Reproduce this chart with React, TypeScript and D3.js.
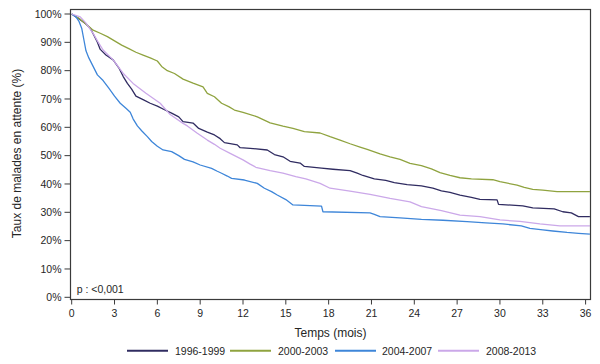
import React from "react";
import * as d3 from "d3";

const seriesNames = ["1996-1999", "2000-2003", "2004-2007", "2008-2013"];
const seriesColors = ["#302c61", "#8fa33f", "#3e86d9", "#cba8e9"];

const t1996 = [0,0.3,0.6,1.0,1.3,1.5,1.8,2.0,2.4,2.9,3.3,3.6,3.9,4.2,4.5,5.0,5.5,6.0,6.5,7.0,7.5,7.8,8.5,8.9,9.5,10.0,10.4,10.7,11.6,11.8,12.5,13.7,14.2,14.8,15.3,16.0,16.3,17.5,18.3,19.5,20.0,20.4,21.2,22.0,22.6,23.5,24.5,25.3,25.9,26.5,27.2,28.0,28.6,29.8,29.9,31.6,32.3,33.8,34.4,35.0,35.5,36.3];
const v1996 = [100,99,98,96.5,95,93,90,87.5,85.5,83.8,81,78,75.5,73.5,71,69.8,68.5,67.5,66.2,65,63.7,62,61.5,59.6,58.3,57.3,56,54.6,53.8,52.8,52.6,52,50.4,49.6,48,47.4,46.2,45.6,45.2,44.7,43.8,43,41.8,41.3,40.5,39.8,39.3,38.5,37.6,37.0,36.1,35.3,34.6,34.4,32.8,32.3,31.6,31.2,30.2,29.8,28.5,28.5];

const t2000 = [0,0.5,1.0,1.5,2.0,2.5,3.0,3.5,4.0,4.5,5.0,5.5,6.0,6.3,6.7,7.2,7.8,8.5,9.2,9.5,10.0,10.5,11.0,11.4,12.0,13.0,13.9,14.8,15.5,16.3,17.4,18.1,18.8,19.5,20.2,20.7,21.6,22.3,23.0,23.7,24.5,25.2,25.8,26.5,27.2,28.0,29.5,30.0,31.2,31.7,32.3,33.0,34.0,36.3];
const v2000 = [100,98.5,96.5,94.3,93.2,92,90.5,89,87.8,86.5,85.5,84.5,83.4,81.5,80,79,77,75.6,74.3,72,70.8,68.5,67.3,66.1,65.3,63.7,61.6,60.4,59.6,58.5,58,56.7,55.5,54.2,53,52.2,50.6,49.6,48.7,47.3,46.5,45.3,44,43,42.2,41.8,41.5,40.8,39.6,38.8,38.1,37.8,37.3,37.3];

const t2004 = [0,0.3,0.5,0.7,0.85,1.0,1.2,1.5,1.8,2.2,2.6,3.0,3.4,3.8,4.1,4.3,4.6,4.9,5.3,5.6,6.0,6.4,7.0,7.5,7.9,8.5,9.0,9.8,10.2,10.5,10.9,11.2,12.1,13.0,13.5,14.0,14.4,15.0,15.5,17.5,17.6,20.9,21.2,21.6,23.0,24.5,26.0,27.7,29.0,30.2,31.5,32.1,33.0,33.7,34.7,35.5,36.3];
const v2004 = [100,99,97.5,95,91,87,84.5,81.5,78.5,76.5,73.8,71,68.5,66.7,65.3,63,60.5,58.8,56.7,55,53.3,52,51.4,50,48.7,47.8,46.7,45.5,44.5,43.8,42.8,42,41.4,40.2,38.5,37.3,36.1,34.5,32.6,32.2,30.2,29.8,29.3,28.5,28,27.5,27.2,26.7,26.3,25.9,25.2,24.3,23.8,23.4,22.9,22.6,22.3];

const t2008 = [0,0.6,1.0,1.5,1.8,2.2,2.9,3.6,4.3,5.2,6.2,6.9,7.8,8.1,8.8,9.5,10.0,10.4,11.1,12.0,12.5,12.9,13.9,14.8,15.7,16.4,17.4,18.1,19.5,20.9,22.3,23.7,24.5,25.9,27.2,28.6,30.0,31.4,32.8,34.2,36.3];
const v2008 = [100,99,96.8,93.2,90.5,87.3,83.8,79.1,75.5,72,68.5,64.5,61.4,60.5,57.9,55.5,54,52.6,50.8,48.5,47,45.9,44.7,43.8,42.6,41.8,40.2,38.5,37.5,36.3,34.9,33.7,32,30.6,29,28.5,27.3,26.8,25.9,25.2,25.2];

const xTicks = [0, 3, 6, 9, 12, 15, 18, 21, 24, 27, 30, 33, 36];
const yTicks = [0, 10, 20, 30, 40, 50, 60, 70, 80, 90, 100];

const seriesTimes = [t1996, t2000, t2004, t2008];
const seriesValues = [v1996, v2000, v2004, v2008];

const W = 600, H = 364;
const frame = { left: 70.5, right: 590.5, top: 9.5, bottom: 299.5 };
const FONT = "'Liberation Sans', Arial, sans-serif";
const TXT = "#262626";

export default function App() {
  const x = d3.scaleLinear().domain([0, 36]).range([71.7, 585.6]);
  const y = d3.scaleLinear().domain([0, 100]).range([297.3, 14]);
  const line = d3
    .line<[number, number]>()
    .x((d) => x(d[0]))
    .y((d) => y(d[1]))
    .curve(d3.curveLinear);

  const legendItems = [
    { lx: 127, tx: 175 },
    { lx: 230, tx: 278 },
    { lx: 335, tx: 382 },
    { lx: 438, tx: 486 },
  ];

  return (
    <svg
      width={W}
      height={H}
      style={{ position: "absolute", left: 0, top: 0, display: "block", background: "#fff" }}
      fontFamily={FONT}
    >
      <defs>
        <clipPath id="plotclip">
          <rect x={frame.left} y={frame.top} width={frame.right - frame.left} height={frame.bottom - frame.top} />
        </clipPath>
      </defs>
      <rect x={0} y={0} width={W} height={H} fill="#fff" />
      <g clipPath="url(#plotclip)">
        {seriesTimes.map((ts, i) => {
          const pts: [number, number][] = ts.map((t, j) => [t, seriesValues[i][j]]);
          return (
            <path
              key={i}
              d={line(pts) || ""}
              fill="none"
              stroke={seriesColors[i]}
              strokeWidth={1.3}
              strokeLinejoin="round"
            />
          );
        })}
      </g>
      <rect
        x={frame.left}
        y={frame.top}
        width={frame.right - frame.left}
        height={frame.bottom - frame.top}
        fill="none"
        stroke="#3a3a3a"
        strokeWidth={1.2}
      />
      {yTicks.map((v) => (
        <g key={v}>
          <line x1={64.5} x2={frame.left} y1={y(v)} y2={y(v)} stroke="#3a3a3a" strokeWidth={1} />
          <text x={61.5} y={y(v) + 3.7} textAnchor="end" fontSize={10.5} fill={TXT}>
            {v + "%"}
          </text>
        </g>
      ))}
      {xTicks.map((t) => (
        <g key={t}>
          <line x1={x(t)} x2={x(t)} y1={frame.bottom} y2={frame.bottom + 5} stroke="#3a3a3a" strokeWidth={1} />
          <text x={x(t)} y={316.8} textAnchor="middle" fontSize={10.5} fill={TXT}>
            {String(t)}
          </text>
        </g>
      ))}
      <text x={330.5} y={336.5} textAnchor="middle" fontSize={12} fill={TXT}>
        Temps (mois)
      </text>
      <text
        transform={`translate(20.5, 153.5) rotate(-90)`}
        textAnchor="middle"
        fontSize={12}
        fill={TXT}
      >
        Taux de malades en attente (%)
      </text>
      <text x={76.7} y={292.5} fontSize={10.5} fill={TXT}>
        p : &lt;0,001
      </text>
      {seriesNames.map((name, i) => (
        <g key={name}>
          <line
            x1={legendItems[i].lx}
            x2={legendItems[i].lx + 41}
            y1={350.7}
            y2={350.7}
            stroke={seriesColors[i]}
            strokeWidth={2}
          />
          <text x={legendItems[i].tx} y={354.5} fontSize={10.5} fill={TXT}>
            {name}
          </text>
        </g>
      ))}
    </svg>
  );
}
